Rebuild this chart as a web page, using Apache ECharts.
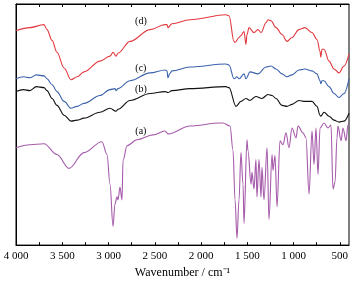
<!DOCTYPE html>
<html>
<head>
<meta charset="utf-8">
<script src="https://cdn.jsdelivr.net/npm/echarts@6/dist/echarts.min.js"></script>
<style>
  html, body { margin: 0; padding: 0; background: #fff; }
  #chart { width: 353px; height: 284px; }
</style>
</head>
<body>
<div id="chart"></div>
<script>
// wavenumber (cm-1) and relative transmittance
const wnD = [4000, 3850, 3697, 3665, 3610, 3557, 3480, 3405, 3340, 3265, 3092, 2984, 2950, 2919, 2897, 2768, 2551, 2389, 2368, 2357, 2314, 2119, 1730, 1697, 1643, 1632, 1589, 1568, 1535, 1514, 1503, 1481, 1427, 1384, 1351, 1297, 1276, 1243, 1189, 1124, 1070, 1016, 941, 876, 800, 746, 713, 705, 692, 670, 616, 562, 508, 454, 400];
const valD = [218, 221, 224, 219, 208, 196, 180, 168, 171, 176, 187, 192, 196, 192, 195, 207, 219, 224, 224, 221, 225, 229, 234, 233, 207, 206, 211, 213, 217, 204, 214, 221, 216, 219, 216, 226, 229, 228, 221, 214, 207, 211, 219, 221, 216, 209, 197, 191, 199, 199, 187, 179, 175, 182, 194];

const wnC = [4000, 3920, 3850, 3780, 3697, 3665, 3610, 3557, 3480, 3405, 3340, 3265, 3092, 2984, 2930, 2919, 2897, 2768, 2551, 2389, 2368, 2357, 2340, 2314, 2119, 1730, 1697, 1643, 1611, 1589, 1535, 1514, 1470, 1384, 1297, 1243, 1189, 1124, 1070, 1016, 941, 876, 800, 746, 713, 705, 692, 670, 616, 562, 508, 454, 400];
const valC = [169, 171, 170, 173, 172, 169, 163, 156, 146, 139, 141, 144, 152, 158, 159, 157, 159, 167, 175, 178, 177, 170, 174, 177, 181, 184, 183, 169, 171, 169, 174, 169, 176, 174, 181, 182, 179, 174, 171, 173, 178, 179, 177, 174, 167, 164, 167, 167, 161, 154, 150, 154, 169];

const wnB = [4000, 3920, 3850, 3780, 3697, 3665, 3610, 3557, 3480, 3405, 3340, 3265, 3092, 2984, 2919, 2897, 2768, 2551, 2389, 2357, 2314, 2119, 1730, 1697, 1622, 1568, 1514, 1470, 1406, 1341, 1276, 1232, 1189, 1124, 1070, 1016, 941, 876, 800, 746, 713, 705, 670, 616, 562, 508, 454, 400];
const valB = [156, 158, 157, 161, 160, 157, 149, 142, 132, 126, 127, 129, 135, 139, 136, 138, 147, 154, 156, 155, 157, 159, 161, 160, 141, 146, 149, 147, 151, 149, 153, 152, 149, 142, 141, 143, 147, 146, 146, 141, 132, 131, 135, 131, 127, 125, 126, 134];

const wnA = [4000, 3850, 3697, 3557, 3427, 3265, 3071, 3016, 2984, 2951, 2930, 2908, 2897, 2876, 2854, 2843, 2800, 2692, 2519, 2389, 2357, 2119, 1795, 1762, 1686, 1654, 1632, 1611, 1589, 1568, 1546, 1535, 1503, 1492, 1459, 1449, 1427, 1406, 1395, 1373, 1351, 1341, 1319, 1286, 1265, 1232, 1222, 1200, 1178, 1146, 1114, 1081, 1049, 1016, 973, 951, 897, 865, 832, 800, 778, 757, 735, 713, 670, 627, 595, 573, 551, 530, 519, 486, 465, 432, 411, 400];
const valA = [99, 102, 103, 92, 78, 94, 105, 92, 62, 19, 42, 49, 46, 59, 46, 86, 101, 107, 112, 116, 113, 121, 124, 124, 121, 96, 46, 7, 46, 94, 62, 22, 107, 96, 62, 74, 57, 87, 49, 87, 49, 79, 46, 99, 26, 92, 76, 91, 39, 106, 102, 114, 99, 119, 109, 121, 114, 109, 52, 116, 82, 119, 72, 119, 124, 119, 122, 57, 64, 109, 121, 106, 119, 106, 122, 124];

const labelTicks = [500, 1000, 1500, 2000, 2500, 3000, 3500, 4000];
const minorTicks = [500, 750, 1000, 1250, 1500, 1750, 2000, 2250, 2500, 2750, 3000, 3250, 3500, 3750, 4000];

const tags = ['(a)', '(b)', '(c)', '(d)'];
const tagPos = [[2650, 116], [2650, 158], [2650, 180], [2650, 227]];

const font = 'Liberation Serif, Times New Roman, serif';

function pairs(xs, ys) {
  return xs.map((x, i) => [x, ys[i]]);
}

function makeSeries(name, xs, ys, color, idx) {
  return {
    name: name,
    type: 'line',
    showSymbol: false,
    silent: true,
    animation: false,
    smooth: 0.35,
    smoothMonotone: 'x',
    data: pairs(xs, ys),
    lineStyle: { color: color, width: 1.1 },
    markPoint: {
      symbol: 'circle',
      symbolSize: 0,
      silent: true,
      label: {
        show: true,
        formatter: tags[idx],
        color: '#000',
        fontFamily: font,
        fontSize: 10
      },
      data: [{ coord: tagPos[idx] }]
    }
  };
}

const chart = echarts.init(document.getElementById('chart'), null, { renderer: 'canvas' });

const baseX = {
  type: 'value',
  min: 400,
  max: 4000,
  inverse: true,
  splitLine: { show: false },
  axisLine: { show: true, lineStyle: { color: '#000', width: 1 } },
  axisTick: {
    show: true,
    inside: true,
    length: 3,
    customValues: minorTicks,
    lineStyle: { color: '#000' }
  }
};

chart.setOption({
  backgroundColor: '#fff',
  grid: {
    left: 16, right: 4, top: 4, bottom: 35,
    show: true, borderColor: '#000', borderWidth: 1
  },
  xAxis: [
    Object.assign({}, baseX, {
      position: 'bottom',
      name: 'Wavenumber / cm\u207B\u00B9',
      nameLocation: 'middle',
      nameGap: 21,
      nameTextStyle: { color: '#000', fontFamily: font, fontSize: 12 },
      axisLabel: {
        show: true,
        customValues: labelTicks,
        margin: 6,
        color: '#000',
        fontFamily: font,
        fontSize: 11,
        formatter: v => v >= 1000 ? Math.floor(v / 1000) + ' ' + String(v % 1000).padStart(3, '0') : String(v)
      }
    }),
    Object.assign({}, baseX, {
      position: 'top',
      axisLabel: { show: false }
    })
  ],
  yAxis: {
    type: 'value',
    min: 0,
    max: 245,
    axisLine: { show: true, lineStyle: { color: '#000' } },
    axisTick: { show: false },
    axisLabel: { show: false },
    splitLine: { show: false }
  },
  series: [
    makeSeries('a', wnA, valA, '#a55aaa', 0),
    makeSeries('b', wnB, valB, '#111111', 1),
    makeSeries('c', wnC, valC, '#3a62ab', 2),
    makeSeries('d', wnD, valD, '#e2383e', 3)
  ]
});
</script>
</body>
</html>
